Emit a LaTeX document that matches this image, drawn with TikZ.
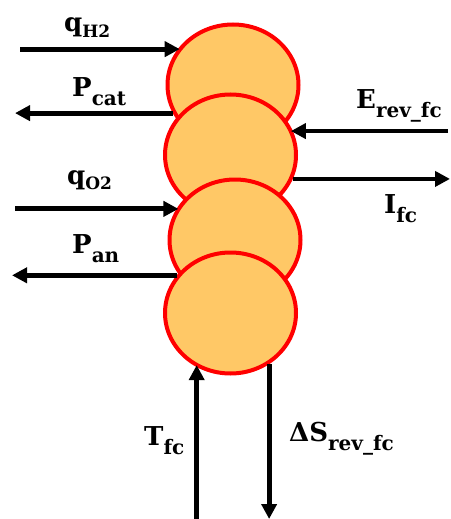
\documentclass[tikz,border=0pt]{standalone}
\usepackage{fontspec}
\setmainfont{DejaVu Serif}
\usetikzlibrary{arrows.meta, shapes.geometric}
\definecolor{fcFill}{RGB}{255, 200, 102}
\definecolor{fcEdge}{RGB}{255, 0, 0}
\newcommand{\sublbl}[2]{#1\raisebox{-0.38em}{\fontsize{20}{20}\selectfont #2}}
\newcommand{\gaslbl}[2]{#1\raisebox{-0.22em}{\fontsize{17}{17}\selectfont #2}}

\begin{document}
\begin{tikzpicture}[x=1pt, y=-1pt,
    cell/.style={ellipse, draw=fcEdge, fill=fcFill, line width=4pt,
                 minimum width=131pt, minimum height=121pt, inner sep=0pt},
    arr/.style={-{Triangle[length=15pt, width=15pt]}, line width=4.8pt,
                black, shorten >=-2pt},
    lbl/.style={font=\bfseries\fontsize{26}{26}\selectfont, inner sep=0pt,
                anchor=base west}]
  \useasboundingbox (0,0) rectangle (450,519);
  % stack of cells, lower one drawn over upper one
  \node[cell] (cellA) at (233,85) {};
  \node[cell] (cellB) at (230.5,155) {};
  \node[cell] (cellC) at (235,240) {};
  \node[cell] (cellD) at (230.5,313) {};
  % free ends of the connectors
  \coordinate (hydIn)  at (20,0 |- cellA.147);
  \coordinate (catOut) at (15,0 |- cellA.205);
  \coordinate (revIn)  at (448,0 |- cellB.21);
  \coordinate (curOut) at (450,0 |- cellB.339);
  \coordinate (oxyIn)  at (15,0 |- cellC.152);
  \coordinate (anOut)  at (12,0 |- cellD.145);
  \coordinate (tmpIn)  at (cellD.238 |- 0,519);
  \coordinate (entOut) at (cellD.307 |- 0,519);
  \draw[arr] (hydIn) -- (cellA.147);
  \draw[arr, shorten >=0pt] (cellA.205) -- (catOut);
  \draw[arr] (revIn) -- (cellB.21);
  \draw[arr, shorten >=0pt] (cellB.339) -- (curOut);
  \draw[arr] (oxyIn) -- (cellC.152);
  \draw[arr, shorten >=0pt] (cellD.145) -- (anOut);
  \draw[arr] (tmpIn) -- (cellD.238);
  \draw[arr, shorten >=0pt] (cellD.307) -- (entOut);
  % labels
  \node[lbl] (hydLbl) at (64,32)   {\gaslbl{q}{H2}};
  \node[lbl] (catLbl) at (72,96)   {\sublbl{P}{cat}};
  \node[lbl] (revLbl) at (356,108) {\sublbl{E}{rev\_fc}};
  \node[lbl] (curLbl) at (384,213) {\sublbl{I}{fc}};
  \node[lbl] (oxyLbl) at (67,184)  {\gaslbl{q}{O2}};
  \node[lbl] (anLbl)  at (72,253)  {\sublbl{P}{an}};
  \node[lbl] (tmpLbl) at (144,445) {\sublbl{T}{fc}};
  \node[lbl] (entLbl) at (289,441) {\sublbl{ΔS}{rev\_fc}};
\end{tikzpicture}
\end{document}
